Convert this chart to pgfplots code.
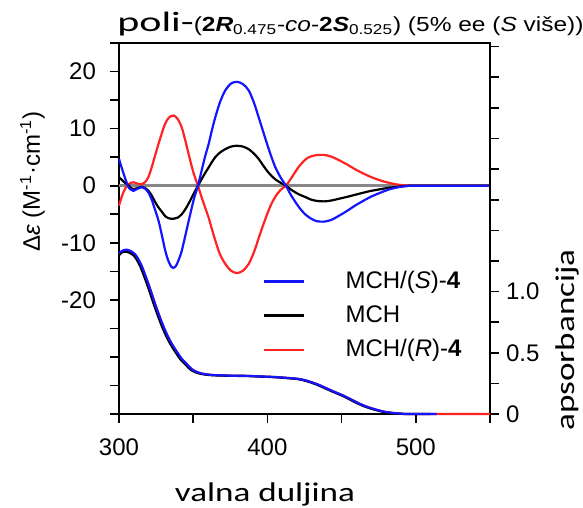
\documentclass[border=0pt]{standalone}
\usepackage{fontspec}
\setmainfont{Liberation Sans}
\newfontfamily\calfont[FakeStretch=1.3]{Carlito}
\newfontfamily\polifont[FakeStretch=1.5]{Carlito}
\newfontfamily\titlefont[FakeStretch=1.2]{Liberation Sans}
\usepackage{pgfplots}
\pgfplotsset{compat=1.18}
\definecolor{cdblue}{RGB}{20,20,255}
\definecolor{cdred}{RGB}{255,35,35}
\definecolor{zgray}{RGB}{135,135,135}
\begin{document}
\begin{tikzpicture}
\begin{axis}[
  name=cd,
  scale only axis, width=185.5pt, height=185.5pt,
  xmin=300, xmax=550, ymin=-40, ymax=25,
  xtick={300,350,...,550}, xticklabels={300,,400,,500,},
  ytick={-40,-35,...,25}, yticklabels={,,,,-20,,-10,,0,,10,,20,},
  xtick pos=lower, ytick pos=left,
  tick align=outside, major tick length=4.5pt,
  axis line style={line width=0.9pt},
  tick style={line width=0.8pt, black},
  tick label style={font=\fontsize{12}{14}\selectfont},
  yticklabel style={xshift=-3.5pt},
  xticklabel style={yshift=-4.5pt},
  clip=false,
  legend cell align=left,
  legend image code/.code={\draw[#1] (0pt,0pt) -- (20pt,0pt);},
  legend style={at={(rel axis cs:0.388,0.388)}, anchor=north west, draw=none, fill=none,
    inner sep=0pt, outer sep=0pt, font=\fontsize{12}{14}\selectfont,
    nodes={inner sep=0pt, text height=9pt, text depth=2.5pt},
    row sep=5.6pt, column sep=20pt},
]
\addlegendimage{cdblue, line width=1.3pt}\addlegendentry{MCH/(\textit{S})-\textbf{4}}
\addlegendimage{black, line width=1.3pt}\addlegendentry{MCH}
\addlegendimage{cdred, line width=1.3pt}\addlegendentry{MCH/(\textit{R})-\textbf{4}}
\addplot[zgray, line width=1.5pt, forget plot] coordinates {(300,0) (550,0)};
% MCH/(R)-4 CD
\addplot[cdred, line width=1.1pt, smooth, forget plot] coordinates {
(300,-3.5) (302,-1.8) (304,-0.6) (306,0.2) (308,0.5) (309.7,0.6) (312,0.4) (315.3,0.25)
(317.5,0.6) (319.8,1.5) (322,3.2) (324,5.0) (326.6,7.3) (329,9.3) (331,10.8) (333.5,11.9)
(336.7,12.3) (339.5,11.7) (342.3,10.2) (345,7.6) (348,4.4) (350.5,2.0) (353.2,0) (356,-2.3)
(358,-3.8) (360.4,-5.6) (362.5,-7.5) (364.9,-9.6) (368,-12.0) (371.6,-13.7) (375.5,-14.9)
(379.5,-15.3) (383.5,-14.9) (387.4,-13.7) (391,-11.6) (394.1,-9.2) (397,-7.0) (399.8,-5.0)
(402.5,-3.3) (405.4,-1.9) (409,-0.7) (412.5,0) (416,1.3) (421.1,3.3) (425.7,4.6) (429,5.1)
(433,5.35) (438,5.4) (443,5.1) (448,4.5) (453.8,3.7) (459,2.9) (465,2.1) (470,1.5)
(476.4,0.9) (482,0.5) (487.6,0.2) (494,0.04) (500,0) (525,0) (550,0)};
% MCH CD
\addplot[black, line width=1.1pt, smooth, forget plot] coordinates {
(300,1.5) (302,1.0) (304,0.5) (306.3,0.1) (308,-0.4) (309.7,-0.6) (312,-0.45) (315.3,-0.2)
(317.5,-0.4) (319.8,-0.9) (322,-1.7) (324,-2.7) (326.6,-3.8) (329,-4.6) (331,-5.3) (333.5,-5.7)
(336.7,-5.8) (339.5,-5.6) (342.3,-5.0) (345,-4.0) (348,-2.6) (350.5,-1.3) (353.2,0) (356,1.3)
(358,2.2) (360.4,3.2) (362.5,4.1) (364.9,5.0) (368,5.8) (371.6,6.4) (375.5,6.85) (379.5,7.0)
(383.5,6.85) (387.4,6.4) (391,5.6) (394.1,4.7) (397,3.6) (399.8,2.6) (402.5,1.8) (405.4,1.1)
(409,0.5) (412.5,0) (416,-0.7) (421.1,-1.5) (425.7,-2.0) (429,-2.4) (433,-2.65) (438,-2.75)
(443,-2.6) (448,-2.3) (453.8,-1.95) (459,-1.6) (465,-1.2) (470,-0.9) (476.4,-0.6) (482,-0.35)
(487.6,-0.2) (494,-0.04) (500,0) (525,0) (550,0)};
% MCH/(S)-4 CD
\addplot[cdblue, line width=1.1pt, smooth, forget plot] coordinates {
(300,4.7) (302,3.0) (304,1.4) (306.3,-0.2) (308,-0.7) (309.7,-0.9) (312,-0.6) (315.3,-0.25)
(317.5,-0.5) (319.8,-1.2) (322,-2.4) (324,-4.0) (326.6,-6.1) (329,-8.8) (331,-11.2) (333,-13.0)
(335,-14.1) (336.7,-14.4) (338.5,-14.0) (340.5,-12.8) (342.3,-11.4) (345,-8.4) (348,-5.0)
(350.5,-2.3) (353.2,0) (356,3.0) (358,5.1) (360.4,7.3) (362.5,9.6) (364.9,12.0) (368,14.6)
(371.6,16.7) (375.5,17.9) (379.5,18.2) (383.5,17.8) (387.4,16.7) (391,14.5) (394.1,12.0)
(397,9.6) (399.8,7.3) (402.5,5.2) (405.4,3.2) (409,1.4) (412.5,0) (416,-1.7) (421.1,-3.7)
(425,-4.9) (429,-5.7) (433,-6.2) (438,-6.3) (443,-6.0) (448,-5.3) (453.8,-4.4) (459,-3.5)
(465,-2.6) (470,-1.9) (476.4,-1.2) (482,-0.65) (487.6,-0.3) (494,-0.05) (500,0) (525,0) (550,0)};
\end{axis}
\begin{axis}[
  scale only axis, width=185.5pt, height=185.5pt,
  xmin=300, xmax=550, ymin=0, ymax=3.03,
  axis x line=none, axis y line*=right,
  ytick={0,0.25,...,3.0}, yticklabels={0,,0.5,,1.0,,,,,,,,},
  tick align=outside, major tick length=4.5pt,
  axis line style={line width=0.9pt},
  tick style={line width=0.8pt, black},
  tick label style={font=\fontsize{12}{14}\selectfont},
  clip=false,
]
% MCH/(R)-4 absorbance
\addplot[cdred, line width=1.1pt, smooth] coordinates {
(300,1.305) (302.5,1.327) (305.2,1.334) (308,1.323) (310.8,1.298) (313,1.26) (315.3,1.205)
(317.5,1.136) (319.8,1.06) (322,0.982) (324.3,0.898) (326.5,0.823) (328.8,0.748) (331,0.683)
(333.3,0.623) (335.5,0.573) (337.8,0.528) (340,0.488) (342.3,0.449) (345.5,0.409) (349,0.366)
(352.5,0.343) (355.9,0.33) (360,0.322) (364.9,0.317) (375,0.313) (387.4,0.311) (396.4,0.306)
(405,0.302) (412,0.296) (418,0.29) (422.3,0.284) (427,0.27) (433.6,0.243) (439,0.214)
(444.8,0.183) (451.6,0.148) (457,0.115) (462.8,0.08) (468,0.055) (474,0.033) (479,0.018)
(485,0.008) (490,0.003) (495,0) (520,0) (550,0)};
% MCH absorbance
\addplot[black, line width=1.1pt, smooth] coordinates {
(300,1.295) (301.7,1.318) (304.4,1.326) (307.2,1.316) (310,1.293) (312.2,1.255) (314.5,1.2)
(316.7,1.132) (319,1.056) (321.2,0.978) (323.5,0.894) (325.7,0.819) (328,0.744) (330.2,0.679)
(332.5,0.619) (334.7,0.569) (337,0.524) (339.2,0.484) (341.5,0.445) (344.7,0.405) (348.2,0.362)
(351.7,0.34) (355.1,0.328) (359.2,0.32) (364.1,0.316) (374.2,0.312) (386.6,0.31) (395.6,0.305)
(404.2,0.301) (411.2,0.295) (417.2,0.289) (421.5,0.283) (426.2,0.269) (432.8,0.242) (438.2,0.213)
(444,0.182) (450.8,0.147) (456.2,0.114) (462,0.079) (467.2,0.054) (473.2,0.032) (478.2,0.017)
(484.2,0.007) (489.2,0.002) (494.2,0) (510,0)};
% MCH/(S)-4 absorbance
\addplot[cdblue, line width=1.1pt, smooth] coordinates {
(300,1.314) (302.5,1.335) (305.2,1.342) (308,1.33) (310.8,1.305) (313,1.265) (315.3,1.21)
(317.5,1.14) (319.8,1.063) (322,0.985) (324.3,0.9) (326.5,0.825) (328.8,0.75) (331,0.685)
(333.3,0.625) (335.5,0.575) (337.8,0.53) (340,0.49) (342.3,0.45) (345.5,0.41) (349,0.366)
(352.5,0.343) (355.9,0.33) (360,0.322) (364.9,0.317) (375,0.313) (387.4,0.311) (396.4,0.306)
(405,0.302) (412,0.296) (418,0.29) (422.3,0.284) (427,0.27) (433.6,0.243) (439,0.214)
(444.8,0.183) (451.6,0.148) (457,0.115) (462.8,0.08) (468,0.055) (474,0.033) (479,0.018)
(485,0.008) (490,0.003) (495,0) (514,0)};
\end{axis}
\begin{scope}[shift={(cd.south west)}]
\node[anchor=base west, inner sep=0pt] at (-1pt,191.15pt)
  {{\polifont\fontsize{14}{16}\selectfont poli-}\titlefont\fontsize{10.2}{12}\selectfont(\textbf{2\textit{R}}\textsubscript{0.475}-\textit{co}-\textbf{2\textit{S}}\textsubscript{0.525}) (5\% ee (\textit{S} više))};
\node[anchor=base, inner sep=0pt] at (73pt,-43.5pt) {\calfont\fontsize{13.5}{16}\selectfont valna duljina};
\node[anchor=base, rotate=90, inner sep=0pt] at (227.5pt,37pt) {\calfont\fontsize{13.5}{16}\selectfont apsorbancija};
\node[rotate=90, inner sep=0pt] at (-43.25pt,116.15pt) {\fontsize{12}{14}\selectfont Δ\textit{ε} (M\textsuperscript{-1}·cm\textsuperscript{-1})};
\pgfresetboundingbox
\path[use as bounding box] (-59.5pt,-47pt) rectangle (232pt,207pt);
\end{scope}
\end{tikzpicture}
\end{document}
